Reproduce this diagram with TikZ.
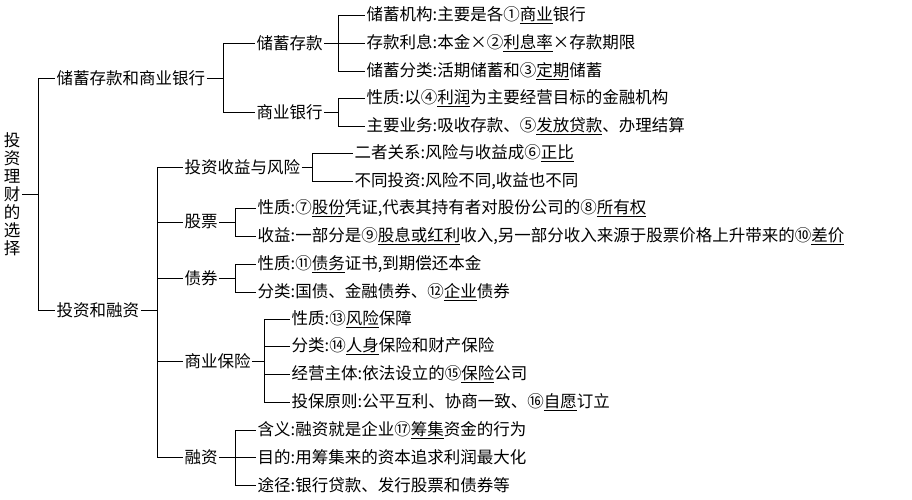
\documentclass[tikz,border=0pt]{standalone}
\usepackage{fontspec}
\setmainfont{Noto Sans CJK SC}
\usepackage{tikz}

\tikzset{
  box/.style={anchor=west,inner sep=1.5pt,font=\fontsize{16.5pt}{18pt}\selectfont},
  link/.style={draw=black,line width=0.6pt}
}
% parent, gap, children
\newcommand{\branch}[3]{%
  \draw[link] (#1.east) -- ([xshift=#2]#1.east);
  \foreach \c in {#3}{\draw[link] ([xshift=#2]#1.east) |- (\c.west);}}
\newcommand{\ans}[1]{\underline{#1}}

\begin{document}
\begin{tikzpicture}[x=1pt,y=-1pt]
	\useasboundingbox (0,0) rectangle (912,500);
	\node[box,align=center,text width=17pt] (root) at (2, 194) {投\\资\\理\\财\\的\\选\\择};

	\node[box] (sav)  at (55, 78)  {储蓄存款和商业银行};
	\node[box] (inv)  at (55, 310) {投资和融资};

	\node[box] (dep)  at (255, 43)  {储蓄存款};
	\node[box] (bank) at (255, 112) {商业银行};
	\node[box] (d1) at (365, 15) {储蓄机构:主要是各①\ans{商业}银行};
	\node[box] (d2) at (365, 43) {存款利息:本金×②\ans{利息率}×存款期限};
	\node[box] (d3) at (365, 71) {储蓄分类:活期储蓄和③\ans{定期}储蓄};
	\node[box] (b1) at (365, 98) {性质:以④\ans{利润}为主要经营目标的金融机构};
	\node[box] (b2) at (365, 126) {主要业务:吸收存款、⑤\ans{发放贷款}、办理结算};

	\node[box] (risk) at (183, 167) {投资收益与风险};
	\node[box] (stk)  at (183, 222) {股票};
	\node[box] (bnd)  at (183, 278) {债券};
	\node[box] (ins)  at (183, 361) {商业保险};
	\node[box] (fin)  at (183, 457) {融资};

	\node[box] (r1) at (353, 153) {二者关系:风险与收益成⑥\ans{正比}};
	\node[box] (r2) at (353, 181) {不同投资:风险不同,收益也不同};
	\node[box] (s1) at (256, 208) {性质:⑦\ans{股份}凭证,代表其持有者对股份公司的⑧\ans{所有权}};
	\node[box] (s2) at (256, 236) {收益:一部分是⑨\ans{股息或红利}收入,另一部分收入来源于股票价格上升带来的⑩\ans{差价}};
	\node[box] (n1) at (256, 264) {性质:⑪\ans{债务}证书,到期偿还本金};
	\node[box] (n2) at (256, 292) {分类:国债、金融债券、⑫\ans{企业}债券};
	\node[box] (i1) at (290, 319) {性质:⑬\ans{风险}保障};
	\node[box] (i2) at (290, 346) {分类:⑭\ans{人身}保险和财产保险};
	\node[box] (i3) at (290, 374) {经营主体:依法设立的⑮\ans{保险}公司};
	\node[box] (i4) at (290, 402) {投保原则:公平互利、协商一致、⑯\ans{自愿}订立};
	\node[box] (f1) at (256, 430) {含义:融资就是企业⑰\ans{筹集}资金的行为};
	\node[box] (f2) at (256, 457) {目的:用筹集来的资本追求利润最大化};
	\node[box] (f3) at (256, 485) {途径:银行贷款、发行股票和债券等};

	\branch{root}{16pt}{sav,inv}
	\branch{sav}{16pt}{dep,bank}
	\branch{dep}{14pt}{d1,d2,d3}
	\branch{bank}{14pt}{b1,b2}
	\branch{inv}{16pt}{risk,stk,bnd,ins,fin}
	\branch{risk}{10pt}{r1,r2}
	\branch{stk}{16pt}{s1,s2}
	\branch{bnd}{16pt}{n1,n2}
	\branch{ins}{12pt}{i1,i2,i3,i4}
	\branch{fin}{16pt}{f1,f2,f3}
\end{tikzpicture}
\end{document}
